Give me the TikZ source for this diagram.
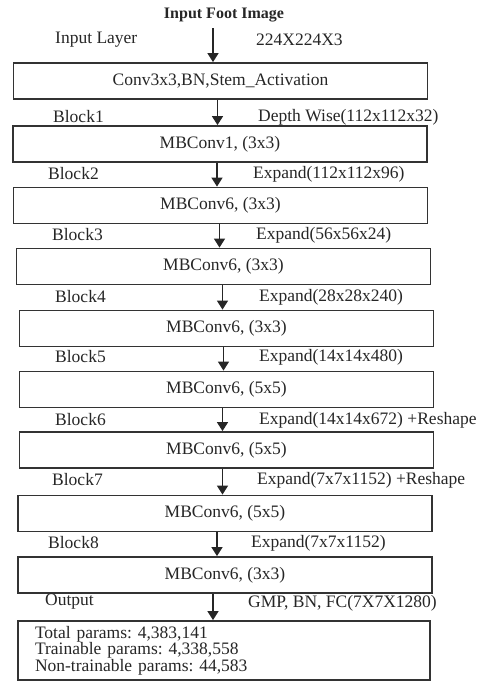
\documentclass[tikz,border=0pt]{standalone}
\usepackage{fontspec}
\setmainfont{Liberation Serif}
\usetikzlibrary{arrows.meta}
\frenchspacing
\begin{document}
\begin{tikzpicture}[x=1pt, y=-1pt,
        blk/.style={rectangle, draw=black!80, line width=1.8pt, minimum width=414pt, minimum height=36pt, inner sep=0pt, text=black!85, font=\fontsize{17.5}{19}\selectfont},
        outblk/.style={blk, minimum width=0pt, minimum height=59pt, text width=378pt, inner xsep=17pt, align=left, font=\fontsize{17.5}{16.5}\selectfont},
        lbl/.style={anchor=west, inner sep=0pt, text=black!85, font=\fontsize{17.5}{19}\selectfont},
        arr/.style={line width=1.5pt, draw=black!85, -{Triangle[length=9pt, width=11pt]}}
    ]
    \useasboundingbox (0,0) rectangle (487,683);
    \node[lbl, anchor=center, font=\bfseries\fontsize{16}{18}\selectfont] (title) at (224,15) {Input Foot Image};
    \coordinate (img) at (213,28);
    \node[lbl] (inl) at (55,40) {Input Layer};
    \node[lbl] (ins) at (256,40) {224X224X3};
    % blocks
    \node[blk] (b0) at (220.5,81) {Conv3x3,BN,Stem\_Activation};
    \node[blk] (b1) at (220,144) {MBConv1, (3x3)};
    \node[blk] (b2) at (220.5,205.5) {MBConv6, (3x3)};
    \node[blk] (b3) at (223.5,266.5) {MBConv6, (3x3)};
    \node[blk] (b4) at (226.5,328.5) {MBConv6, (3x3)};
    \node[blk] (b5) at (226.5,389.5) {MBConv6, (5x5)};
    \node[blk] (b6) at (226.5,450) {MBConv6, (5x5)};
    \node[blk] (b7) at (225,513.5) {MBConv6, (5x5)};
    \node[blk] (b8) at (225,575) {MBConv6, (3x3)};
    \node[outblk] (b9) at (224,650.5) {Total params: 4,383,141\\
        Trainable params: 4,338,558\\
        Non-trainable params: 44,583};
    % labels between blocks
    \node[lbl] (l1) at (53,117) {Block1};
    \node[lbl] (r1) at (258,117) {Depth Wise(112x112x32)};
    \node[lbl] (l2) at (48,174) {Block2};
    \node[lbl] (r2) at (253,174) {Expand(112x112x96)};
    \node[lbl] (l3) at (52,235) {Block3};
    \node[lbl] (r3) at (256,235) {Expand(56x56x24)};
    \node[lbl] (l4) at (55,297) {Block4};
    \node[lbl] (r4) at (259,297) {Expand(28x28x240)};
    \node[lbl] (l5) at (55,357) {Block5};
    \node[lbl] (r5) at (259,357) {Expand(14x14x480)};
    \node[lbl] (l6) at (55,420) {Block6};
    \node[lbl] (r6) at (259,420) {Expand(14x14x672) +Reshape};
    \node[lbl] (l7) at (52,480) {Block7};
    \node[lbl] (r7) at (257,480) {Expand(7x7x1152) +Reshape};
    \node[lbl] (l8) at (48,543) {Block8};
    \node[lbl] (r8) at (251,543) {Expand(7x7x1152)};
    \node[lbl] (l9) at (45,602) {Output};
    \node[lbl] (r9) at (248,603) {GMP, BN, FC(7X7X1280)};
    % arrows
    \draw[arr] (img) -- (img |- b0.north);
    \foreach \a/\b/\s in {b0/b1/-3, b1/b2/-3, b2/b3/-1, b3/b4/-1, b4/b5/-3, b5/b6/-4, b6/b7/-4, b7/b8/-8, b8/b9/-12}
        \draw[arr] ([xshift=\s pt]\a.south) -- ([xshift=\s pt]\a.south |- \b.north);
\end{tikzpicture}
\end{document}
